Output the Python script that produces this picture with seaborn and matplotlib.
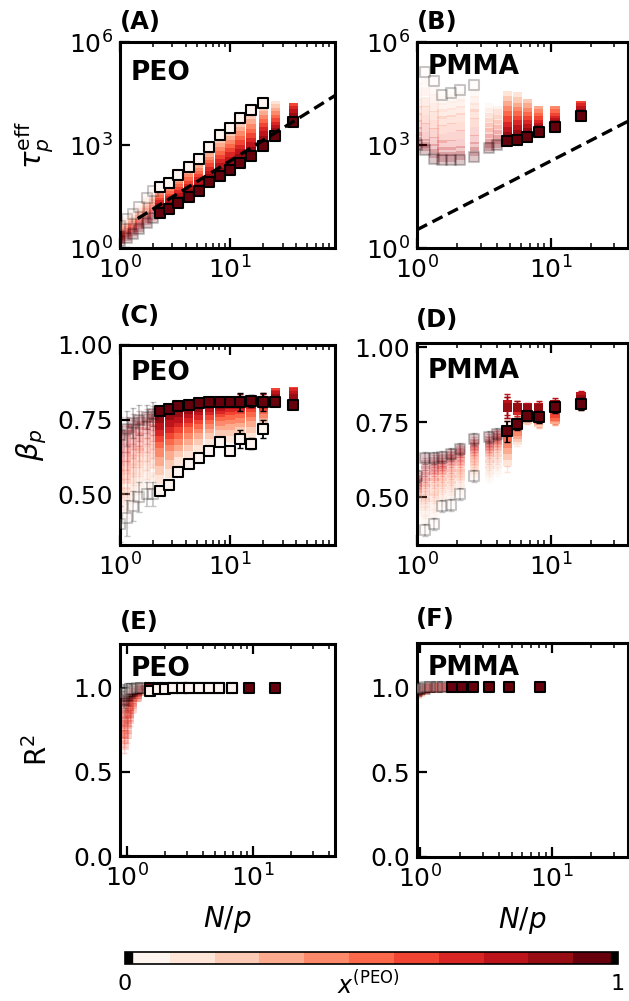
import numpy as np
import pandas as pd
import matplotlib
matplotlib.use("Agg")
import matplotlib.pyplot as plt
import seaborn as sns
from matplotlib.colors import ListedColormap, BoundaryNorm
from matplotlib.ticker import FixedLocator, NullLocator, NullFormatter, FixedFormatter

nan = np.nan

# ---------------- data ----------------
compositions = [0.0, 0.1, 0.2, 0.3, 0.4, 0.5, 0.6, 0.7, 0.8, 0.9, 1.0]

# (A) PEO, log10 tau_p^eff
npA = [1.0, 1.15, 1.3, 1.5, 1.75, 2.0, 2.3, 2.8, 3.4, 4.2, 5.2, 6.5, 8.1, 10, 12.3, 15.5, 20, 25.7, 37.7]
logtauA = [
    [0.65, 0.85, 1.00, 1.20, 1.45, 1.65, 1.77, 1.90, 2.13, 2.37, 2.59, 2.95, 3.29, 3.49, 3.78, 4.02, 4.22, nan, nan],
    [0.60, 0.80, 0.95, 1.15, 1.38, 1.58, 1.70, 1.83, 2.05, 2.28, 2.50, 2.85, 3.17, 3.37, 3.65, 3.88, 4.10, 4.15, nan],
    [0.55, 0.74, 0.90, 1.10, 1.31, 1.50, 1.62, 1.75, 1.97, 2.19, 2.40, 2.74, 3.05, 3.25, 3.52, 3.75, 3.98, 4.05, nan],
    [0.50, 0.68, 0.84, 1.03, 1.24, 1.43, 1.55, 1.67, 1.89, 2.10, 2.31, 2.64, 2.93, 3.13, 3.39, 3.61, 3.86, 3.95, nan],
    [0.46, 0.62, 0.78, 0.96, 1.17, 1.36, 1.47, 1.60, 1.80, 2.01, 2.21, 2.53, 2.81, 3.01, 3.26, 3.48, 3.74, 3.85, nan],
    [0.42, 0.56, 0.72, 0.89, 1.10, 1.29, 1.40, 1.52, 1.72, 1.92, 2.12, 2.43, 2.69, 2.89, 3.13, 3.34, 3.62, 3.75, nan],
    [0.37, 0.50, 0.66, 0.82, 1.03, 1.22, 1.32, 1.44, 1.64, 1.83, 2.02, 2.33, 2.57, 2.77, 3.00, 3.21, 3.50, 3.65, 4.10],
    [0.33, 0.45, 0.60, 0.75, 0.95, 1.13, 1.25, 1.37, 1.56, 1.74, 1.93, 2.22, 2.45, 2.65, 2.87, 3.07, 3.38, 3.55, 4.00],
    [0.29, 0.40, 0.54, 0.68, 0.87, 1.04, 1.17, 1.29, 1.47, 1.66, 1.84, 2.12, 2.33, 2.53, 2.74, 2.94, 3.26, 3.45, 3.92],
    [0.25, 0.35, 0.48, 0.61, 0.80, 0.96, 1.10, 1.22, 1.39, 1.57, 1.74, 2.01, 2.21, 2.40, 2.61, 2.81, 3.12, 3.36, 3.80],
    [0.20, 0.30, 0.42, 0.55, 0.72, 0.88, 1.02, 1.14, 1.31, 1.49, 1.65, 1.91, 2.09, 2.28, 2.48, 2.67, 2.96, 3.27, 3.66],
]

# (B) PMMA, log10 tau_p^eff
npB = [1.0, 1.15, 1.34, 1.54, 1.81, 2.11, 2.69, 3.47, 3.98, 4.75, 5.63, 6.68, 8.15, 10.8, 16.9]
logtauB = [
    [nan, 5.12, 4.86, 4.47, 4.52, 4.60, 4.76, nan, nan, nan, nan, nan, nan, nan, nan],
    [4.70, 4.85, 4.60, 4.30, 4.35, 4.40, 4.50, 4.10, nan, 4.45, 4.40, nan, nan, nan, nan],
    [4.45, 4.55, 4.35, 4.10, 4.15, 4.20, 4.30, 3.95, 4.00, 4.30, 4.25, 4.20, nan, nan, nan],
    [4.20, 4.25, 4.10, 3.90, 3.95, 4.00, 4.10, 3.80, 3.90, 4.15, 4.10, 4.08, 4.00, nan, nan],
    [4.00, 4.00, 3.85, 3.70, 3.75, 3.80, 3.90, 3.65, 3.75, 4.00, 3.97, 3.95, 3.90, 4.00, nan],
    [3.80, 3.75, 3.60, 3.45, 3.50, 3.55, 3.65, 3.50, 3.60, 3.85, 3.85, 3.83, 3.80, 3.90, nan],
    [3.60, 3.50, 3.35, 3.20, 3.25, 3.30, 3.40, 3.35, 3.45, 3.70, 3.72, 3.72, 3.70, 3.80, 4.15],
    [3.40, 3.25, 3.10, 3.00, 3.00, 3.05, 3.15, 3.20, 3.30, 3.55, 3.58, 3.60, 3.60, 3.72, 4.08],
    [3.25, 3.05, 2.90, 2.80, 2.80, 2.85, 2.95, 3.05, 3.15, 3.40, 3.45, 3.48, 3.52, 3.65, 4.00],
    [3.10, 2.95, 2.75, 2.65, 2.65, 2.70, 2.80, 2.95, 3.05, 3.25, 3.30, 3.36, 3.45, 3.58, 3.92],
    [3.00, 2.85, 2.60, 2.55, 2.55, 2.55, 2.65, 2.90, 3.00, 3.11, 3.16, 3.24, 3.37, 3.53, 3.84],
]

# (C) PEO, beta_p
npC = [1.0, 1.15, 1.3, 1.5, 1.75, 2.0, 2.3, 2.8, 3.4, 4.2, 5.2, 6.5, 8.1, 10, 12.3, 15.5, 20, 25.7, 37.7]
betaC = [
    [0.40, 0.42, 0.46, 0.49, 0.50, 0.50, 0.51, 0.53, 0.575, 0.60, 0.62, 0.645, 0.675, 0.645, 0.685, 0.67, 0.72, nan, nan],
    [0.43, 0.45, 0.49, 0.52, 0.53, 0.53, 0.55, 0.57, 0.61, 0.63, 0.65, 0.67, 0.69, 0.69, 0.70, 0.70, 0.74, 0.82, nan],
    [0.46, 0.48, 0.52, 0.55, 0.56, 0.56, 0.58, 0.60, 0.64, 0.66, 0.68, 0.70, 0.71, 0.71, 0.72, 0.72, 0.75, 0.825, nan],
    [0.49, 0.51, 0.55, 0.58, 0.59, 0.60, 0.61, 0.63, 0.66, 0.68, 0.70, 0.72, 0.73, 0.73, 0.74, 0.74, 0.76, 0.83, nan],
    [0.52, 0.55, 0.58, 0.61, 0.62, 0.63, 0.64, 0.66, 0.68, 0.70, 0.72, 0.735, 0.745, 0.75, 0.755, 0.76, 0.77, 0.835, nan],
    [0.55, 0.58, 0.61, 0.64, 0.65, 0.66, 0.67, 0.68, 0.70, 0.72, 0.735, 0.75, 0.76, 0.765, 0.77, 0.775, 0.785, 0.84, nan],
    [0.58, 0.61, 0.64, 0.66, 0.68, 0.69, 0.69, 0.70, 0.72, 0.74, 0.75, 0.765, 0.775, 0.78, 0.785, 0.79, 0.795, 0.84, 0.845],
    [0.61, 0.64, 0.67, 0.69, 0.71, 0.72, 0.71, 0.72, 0.74, 0.755, 0.765, 0.78, 0.785, 0.79, 0.795, 0.80, 0.80, 0.835, 0.84],
    [0.64, 0.67, 0.70, 0.71, 0.73, 0.74, 0.73, 0.74, 0.755, 0.77, 0.78, 0.79, 0.795, 0.80, 0.80, 0.805, 0.805, 0.83, 0.83],
    [0.67, 0.70, 0.72, 0.73, 0.745, 0.755, 0.755, 0.765, 0.775, 0.785, 0.79, 0.80, 0.80, 0.805, 0.805, 0.81, 0.81, 0.82, 0.82],
    [0.70, 0.72, 0.74, 0.75, 0.76, 0.77, 0.78, 0.785, 0.795, 0.80, 0.805, 0.81, 0.81, 0.81, 0.81, 0.812, 0.81, 0.81, 0.80],
]
errC = [0.06, 0.06, 0.05, 0.05, 0.04, 0.04, 0.01, 0.01, 0.01, 0.01, 0.01, 0.012, 0.015, 0.015, 0.03, 0.02, 0.03, 0.01, 0.01]

# (D) PMMA, beta_p
npD = [1.0, 1.15, 1.34, 1.54, 1.81, 2.11, 2.69, 3.47, 3.98, 4.75, 5.63, 6.68, 8.15, 10.8, 16.9]
betaD = [
    [nan, 0.39, 0.41, 0.47, 0.475, 0.51, 0.57, nan, nan, nan, nan, nan, nan, nan, nan],
    [0.45, 0.42, 0.44, 0.49, 0.50, 0.53, 0.58, 0.57, 0.59, 0.62, 0.69, nan, nan, nan, nan],
    [0.47, 0.45, 0.47, 0.51, 0.52, 0.55, 0.59, 0.59, 0.61, 0.64, 0.70, 0.76, 0.75, nan, nan],
    [0.49, 0.48, 0.50, 0.53, 0.54, 0.57, 0.60, 0.61, 0.63, 0.66, 0.71, 0.765, 0.755, 0.76, nan],
    [0.51, 0.50, 0.52, 0.55, 0.56, 0.58, 0.62, 0.63, 0.65, 0.68, 0.72, 0.77, 0.76, 0.765, nan],
    [0.52, 0.53, 0.55, 0.57, 0.58, 0.60, 0.63, 0.65, 0.67, 0.70, 0.735, 0.775, 0.77, 0.77, 0.81],
    [0.53, 0.55, 0.57, 0.59, 0.60, 0.62, 0.65, 0.66, 0.68, 0.72, 0.75, 0.78, 0.78, 0.78, 0.815],
    [0.54, 0.57, 0.59, 0.60, 0.62, 0.63, 0.66, 0.67, 0.69, 0.80, 0.79, 0.79, 0.79, 0.80, 0.83],
    [0.55, 0.59, 0.60, 0.61, 0.63, 0.645, 0.67, 0.68, 0.70, 0.81, 0.80, 0.80, 0.80, 0.81, 0.835],
    [0.56, 0.61, 0.62, 0.625, 0.64, 0.655, 0.68, 0.69, 0.705, 0.80, 0.80, 0.795, 0.795, 0.805, 0.825],
    [0.57, 0.63, 0.63, 0.635, 0.645, 0.66, 0.695, 0.70, 0.71, 0.72, 0.745, 0.77, 0.767, 0.80, 0.81],
]
errD = [0.02, 0.02, 0.02, 0.02, 0.02, 0.02, 0.02, 0.02, 0.02, 0.035, 0.02, 0.015, 0.02, 0.02, 0.02]

# (E) PEO, R^2
npE = [0.95, 1.0, 1.05, 1.1, 1.2, 1.3, 1.52, 1.77, 2.0, 2.33, 2.72, 3.12, 3.75, 4.5, 5.4, 6.78, 9.35, 15.0]
r2E = [
    [0.97, 0.98, 0.99, 0.99, 1.00, 1.00, 0.98, 0.99, 0.995, 1.0, 1.0, 1.0, 1.0, 1.0, 1.0, 1.0, nan, nan],
    [0.92, 0.94, 0.96, 0.98, 0.99, 1.00] + [nan] * 12,
    [0.88, 0.90, 0.93, 0.96, 0.98, 0.99] + [nan] * 12,
    [0.82, 0.85, 0.90, 0.94, 0.97, 0.99] + [nan] * 12,
    [0.76, 0.80, 0.87, 0.92, 0.96, 0.99] + [nan] * 12,
    [0.70, 0.75, 0.84, 0.90, 0.95, 0.98] + [nan] * 12,
    [0.66, 0.72, 0.81, 0.88, 0.94, 0.98] + [nan] * 12,
    [0.72, 0.78, 0.85, 0.91, 0.96, 0.99] + [nan] * 12,
    [0.80, 0.84, 0.89, 0.94, 0.97, 0.99] + [nan] * 12,
    [0.88, 0.91, 0.94, 0.97, 0.98, 1.00] + [nan] * 12,
    [0.93, 0.95, 0.97, 0.98, 0.99, 1.00, 1.0, 1.0, 1.0, 1.0, 1.0, 1.0, 1.0, 1.0, 1.0, 1.0, 1.0, 1.0],
]
errE = [0.05, 0.05, 0.04, 0.03, 0.02, 0.01] + [0.005] * 12

# (F) PMMA, R^2
npF = [0.95, 1.0, 1.1, 1.2, 1.35, 1.5, 1.74, 2.07, 2.54, 3.33, 4.75, 8.1]
r2F = [
    [0.99, 0.995, 1.0, 1.0, 1.0, 1.0] + [nan] * 6,
    [0.985, 0.99, 0.995, 1.0, 1.0, 1.0] + [nan] * 6,
    [0.98, 0.985, 0.99, 0.995, 1.0, 1.0] + [nan] * 6,
    [0.975, 0.98, 0.99, 0.995, 1.0, 1.0] + [nan] * 6,
    [0.97, 0.975, 0.985, 0.99, 0.995, 1.0] + [nan] * 6,
    [0.96, 0.97, 0.98, 0.99, 0.995, 1.0] + [nan] * 6,
    [0.965, 0.975, 0.985, 0.99, 0.995, 1.0] + [nan] * 6,
    [0.97, 0.98, 0.99, 0.995, 1.0, 1.0] + [nan] * 6,
    [0.975, 0.985, 0.99, 0.995, 1.0, 1.0] + [nan] * 6,
    [0.98, 0.99, 0.995, 1.0, 1.0, 1.0] + [nan] * 6,
    [0.98, 0.99, 0.99, 1.0, 1.0, 1.0, 1.0, 1.0, 1.0, 1.0, 1.0, 1.0],
]

# guide line tau ~ (N/p)^2
guideA_np = [1.45, 100.0]
guideA_tau = [7.2, 34000.0]
guideB_np = [1.0, 100.0]
guideB_tau = [3.4, 34000.0]

# ---------------- style ----------------
plt.rcParams['font.family'] = ['DejaVu Sans']
plt.rcParams['mathtext.fontset'] = 'dejavusans'

reds = plt.get_cmap('Reds')
colors = [reds(i / 10) for i in range(11)]
pal = {k: colors[k] for k in range(11)}

W, H = 629, 1001
fig = plt.figure(figsize=(W / 100, H / 100), dpi=100)


def add_ax(l, r, t, b):
    return fig.add_axes([l / W, 1 - b / H, (r - l) / W, (b - t) / H])


axA = add_ax(120, 335, 42, 248)
axB = add_ax(417, 628, 42, 248)
axC = add_ax(120, 335, 345, 545)
axD = add_ax(417, 628, 343, 545)
axE = add_ax(120, 335, 644, 856)
axF = add_ax(417, 628, 643, 857)
cax = add_ax(125, 618, 952, 964)


def long_frame(npv, rows, errs=None, log=False):
    recs = []
    for k, row in enumerate(rows):
        for j, (n, v) in enumerate(zip(npv, row)):
            if not np.isnan(v):
                val = 10 ** v if log else v
                e = errs[j] if errs is not None else 0.0
                recs.append((n, val, k, e))
    return pd.DataFrame(recs, columns=['np', 'val', 'k', 'err'])


def draw(ax, df, fade_below, with_err=False):
    faded = df['np'] < fade_below
    for is_faded in (True, False):
        a = 0.22 if is_faded else 1.0
        sub = df[faded == is_faded]
        mid = sub[(sub.k > 0) & (sub.k < 10)]
        if with_err:
            for k, g in mid.groupby('k'):
                ax.errorbar(g['np'], g['val'], yerr=g['err'], fmt='none',
                            ecolor=colors[k], alpha=a, elinewidth=1.0,
                            capsize=2, zorder=1)
        if len(mid):
            sns.scatterplot(data=mid, x='np', y='val', hue='k', palette=pal,
                            marker='s', s=44, linewidth=0, alpha=a,
                            legend=False, ax=ax, zorder=2)
        for k in (10, 0):
            g = sub[sub.k == k]
            if not len(g):
                continue
            if with_err:
                ax.errorbar(g['np'], g['val'], yerr=g['err'], fmt='none',
                            ecolor='k', alpha=a, elinewidth=1.3, capsize=2.5,
                            zorder=3)
            sns.scatterplot(data=g, x='np', y='val', color=colors[k],
                            marker='s', s=50, edgecolor='k', linewidth=1.5,
                            alpha=a, legend=False, ax=ax, zorder=4)


for ax in (axA, axB, axC, axD, axE, axF):
    ax.set_xscale('log')
for ax in (axA, axB):
    ax.set_yscale('log')

draw(axA, long_frame(npA, logtauA, log=True), 2.2)
draw(axB, long_frame(npB, logtauB, log=True), 4.5)
draw(axC, long_frame(npC, betaC, errC), 2.2, with_err=True)
draw(axD, long_frame(npD, betaD, errD), 4.5, with_err=True)
draw(axE, long_frame(npE, r2E, errE), 1.4, with_err=True)
draw(axF, long_frame(npF, r2F), 1.6)

axA.plot(guideA_np, guideA_tau, color='k', lw=2.4, dashes=(3.4, 1.8), zorder=5)
axB.plot(guideB_np, guideB_tau, color='k', lw=2.4, dashes=(3.4, 1.8), zorder=5)

axA.set_xlim(1, 90); axA.set_ylim(1, 1e6)
axB.set_xlim(1, 38); axB.set_ylim(1, 1e6)
axC.set_xlim(1, 90); axC.set_ylim(0.33, 1.0)
axD.set_xlim(1, 38); axD.set_ylim(0.34, 1.015)
axE.set_xlim(0.88, 45); axE.set_ylim(0, 1.26)
axF.set_xlim(0.95, 38); axF.set_ylim(0, 1.26)

for ax in (axA, axB):
    ax.yaxis.set_major_locator(FixedLocator([1, 1e3, 1e6]))
    ax.yaxis.set_minor_locator(NullLocator())
for ax in (axC, axD):
    ax.yaxis.set_major_locator(FixedLocator([0.5, 0.75, 1.0]))
    ax.yaxis.set_major_formatter(FixedFormatter(['0.50', '0.75', '1.00']))
for ax in (axE, axF):
    ax.yaxis.set_major_locator(FixedLocator([0.0, 0.5, 1.0]))
    ax.yaxis.set_major_formatter(FixedFormatter(['0.0', '0.5', '1.0']))

for ax in (axA, axB, axC, axD, axE, axF):
    ax.xaxis.set_minor_formatter(NullFormatter())
    ax.tick_params(which='both', direction='in', top=True, right=False,
                   bottom=True, left=True, colors='k')
    ax.tick_params(which='major', length=7, width=1.6, labelsize=18)
    ax.tick_params(axis='x', which='major', pad=6)
    ax.tick_params(axis='y', which='major', pad=5)
    ax.tick_params(which='minor', length=3.5, width=1.1)
    for s in ax.spines.values():
        s.set_linewidth(2.2)
        s.set_color('k')
    ax.set_xlabel('')
    ax.set_ylabel('')

axA.set_ylabel(r'$\tau_p^{\mathrm{eff}}$', fontsize=21)
axA.yaxis.set_label_coords(-0.30, 0.5)
axC.set_ylabel(r'$\beta_p$', fontsize=21)
axC.yaxis.set_label_coords(-0.33, 0.5)
axE.set_ylabel(r'R$^2$', fontsize=20)
axE.yaxis.set_label_coords(-0.31, 0.5)
for ax in (axE, axF):
    ax.set_xlabel(r'$N/p$', fontsize=20)
    ax.xaxis.set_label_coords(0.5, -0.225)

for ax, name, yy in ((axA, 'PEO', 0.915), (axB, 'PMMA', 0.94), (axC, 'PEO', 0.925),
                     (axD, 'PMMA', 0.925), (axE, 'PEO', 0.943), (axF, 'PMMA', 0.943)):
    ax.text(0.05, yy, name, transform=ax.transAxes, ha='left', va='top',
            fontsize=19, fontweight='bold', zorder=10)

for lab, x, yb in (('(A)', 120, 34), ('(B)', 417, 34), ('(C)', 120, 328),
                   ('(D)', 416, 332), ('(E)', 120, 634), ('(F)', 416, 631)):
    fig.text(x / W, 1 - yb / H, lab, ha='left', va='bottom', fontsize=17.5,
             fontweight='bold')

# colorbar
cmap11 = ListedColormap(colors)
norm = BoundaryNorm(np.linspace(0, 1, 12), 11)
sm = matplotlib.cm.ScalarMappable(norm=norm, cmap=cmap11)
cb = fig.colorbar(sm, cax=cax, orientation='horizontal', ticks=[0, 1])
cb.ax.minorticks_off()
cb.ax.set_xticklabels(['0', '1'])
cb.ax.tick_params(which='both', length=0, labelsize=16, pad=7)
cb.outline.set_linewidth(1.2)
cax.axvspan(0, 0.014, color='k')
cax.axvspan(0.986, 1, color='k')
cax.text(0.493, -0.55, r'$x^{\mathrm{(PEO)}}$', transform=cax.transAxes,
         ha='center', va='top', fontsize=17)

fig.savefig('out.png', dpi=100)
